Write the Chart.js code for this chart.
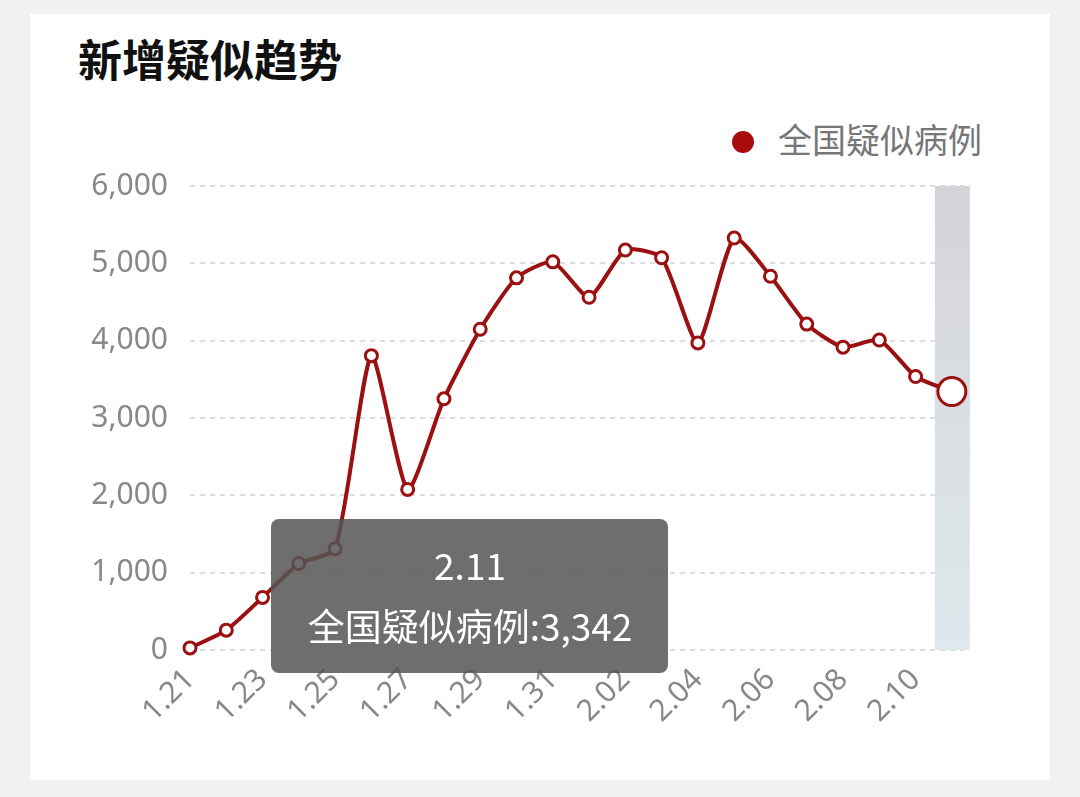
<!DOCTYPE html>
<html><head><meta charset="utf-8">
<script src="https://cdn.jsdelivr.net/npm/chart.js@4"></script>
<style>
html,body{margin:0;padding:0;background:#f1f1f1;width:1080px;height:797px;overflow:hidden;font-family:"Noto Sans CJK SC",sans-serif}
#card{position:absolute;left:30px;top:14px;width:1020px;height:766px;background:#fff}
#title{position:absolute;left:78px;top:26px;font-size:44px;font-weight:bold;color:#111}
#legend{position:absolute;left:732px;top:114px;font-size:34px;color:#777}
#legend span{display:inline-block;width:22px;height:22px;border-radius:50%;background:#a80c0c;margin-right:24px;vertical-align:0px}
canvas{position:absolute;left:0;top:0}
</style></head><body>
<div id="card"></div>
<div id="title">新增疑似趋势</div>
<div id="legend"><span></span>全国疑似病例</div>
<canvas id="c" width="1080" height="797"></canvas>
<script>
const categories=["1.21","1.22","1.23","1.24","1.25","1.26","1.27","1.28","1.29","1.30","1.31","2.01","2.02","2.03","2.04","2.05","2.06","2.07","2.08","2.09","2.10","2.11"];
const values=[27,257,680,1118,1309,3806,2077,3248,4148,4812,5019,4562,5173,5072,3971,5328,4833,4214,3916,4008,3536,3342];
const yTicks=[0,1000,2000,3000,4000,5000,6000];
const seriesName="全国疑似病例";
const last=values.length-1;
const deco={id:'deco',beforeDatasetsDraw(ch){const c=ch.ctx,a=ch.chartArea,x=ch.scales.x.getPixelForValue(last);
 const g=c.createLinearGradient(0,a.top,0,a.bottom);g.addColorStop(0,'#d4d4d8');g.addColorStop(1,'#dfe8ec');
 c.save();c.fillStyle=g;c.fillRect(x-17,a.top,35,a.bottom-a.top);c.restore();},
 afterDraw(ch){const c=ch.ctx;c.save();c.fillStyle='rgba(85,85,85,0.85)';c.beginPath();c.roundRect(271,519,397,154,8);c.fill();
 c.fillStyle='#fff';c.textAlign='center';c.textBaseline='middle';c.font='37px "Noto Sans CJK SC"';
 c.fillText(categories[last],470,566);c.fillText(seriesName+':'+values[last].toLocaleString('en-US'),470,627);c.restore();}};
new Chart(document.getElementById('c'),{type:'line',
 data:{datasets:[{data:values.map((v,i)=>({x:i,y:v})),borderColor:'#9b1010',borderWidth:4,tension:0.2,clip:false,
  pointBackgroundColor:'#fff',pointBorderColor:'#9b1010',pointBorderWidth:3,
  pointRadius:values.map((v,i)=>i===last?14:6)}]},
 options:{responsive:false,animation:false,layout:{padding:{left:0,top:186,right:110,bottom:0}},
  plugins:{legend:{display:false},tooltip:{enabled:false}},
  scales:{
   y:{min:0,max:6000,afterFit(s){s.width=190},
    afterBuildTicks(s){s.ticks=yTicks.map(v=>({value:v}))},
    grid:{color:'#ddd',lineWidth:2,drawTicks:false},border:{display:false,dash:[5,5]},
    ticks:{padding:22,color:'#888',font:{size:30,family:'Noto Sans'},callback:v=>v.toLocaleString('en-US')}},
   x:{type:'linear',min:0,max:21.5,afterFit(s){s.height=147},grid:{display:false},border:{display:false},
    afterBuildTicks(s){s.ticks=categories.map((c,i)=>({value:i})).filter(t=>t.value%2===0)},
    ticks:{minRotation:45,maxRotation:45,padding:4,color:'#888',font:{size:30,family:'Noto Sans'},callback:v=>categories[v]}}}},
 plugins:[deco]});
</script></body></html>
